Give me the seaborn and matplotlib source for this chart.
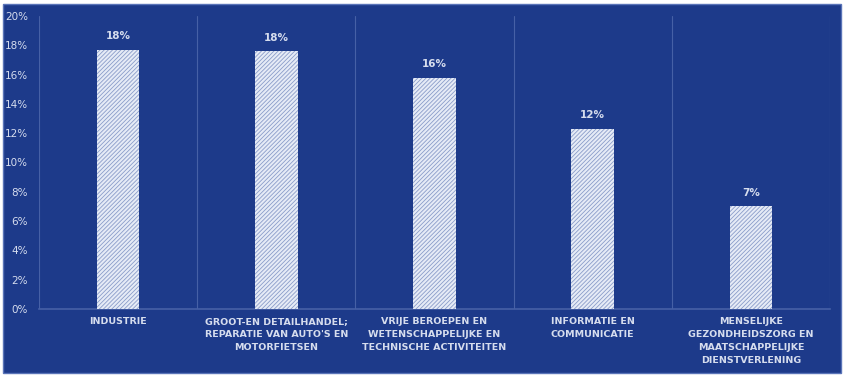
import matplotlib
matplotlib.use("Agg")
import matplotlib.pyplot as plt
import seaborn as sns
import pandas as pd
from matplotlib.patches import Rectangle
from matplotlib.ticker import PercentFormatter

categories = [
    "INDUSTRIE",
    "GROOT-EN DETAILHANDEL;\nREPARATIE VAN AUTO'S EN\nMOTORFIETSEN",
    "VRIJE BEROEPEN EN\nWETENSCHAPPELIJKE EN\nTECHNISCHE ACTIVITEITEN",
    "INFORMATIE EN\nCOMMUNICATIE",
    "MENSELIJKE\nGEZONDHEIDSZORG EN\nMAATSCHAPPELIJKE\nDIENSTVERLENING",
]
values = [0.177, 0.176, 0.158, 0.123, 0.070]
value_labels = ["18%", "18%", "16%", "12%", "7%"]
y_ticks = [0, 0.02, 0.04, 0.06, 0.08, 0.10, 0.12, 0.14, 0.16, 0.18, 0.20]

BG = "#1d3a8a"
TXT = "#d6ddee"
GRID = "#4660a6"

sns.set_style("white")
plt.rcParams["font.family"] = ["DejaVu Sans"]
plt.rcParams["hatch.linewidth"] = 0.6

df = pd.DataFrame({"cat": categories, "val": values})

fig = plt.figure(figsize=(8.45, 3.79), dpi=100)
fig.patch.set_facecolor("white")
bg = fig.add_axes([0, 0, 1, 1], zorder=-5)
bg.set_axis_off()
bg.add_patch(Rectangle((3 / 845, 6 / 379), 838 / 845, 369 / 379,
                       transform=bg.transAxes, facecolor=BG,
                       edgecolor="#5a74b8", linewidth=1))
ax = fig.add_axes([39 / 845, 1 - 309 / 379, (830 - 39) / 845, (309 - 16) / 379])
ax.set_facecolor("none")

sns.barplot(data=df, x="cat", y="val", ax=ax, color="#e6ebf6", width=0.27,
            saturation=1, edgecolor="#8a9cc9", linewidth=0)
for p in ax.patches:
    p.set_hatch("////////")
    p.set_zorder(3)

for i, (v, lab) in enumerate(zip(values, value_labels)):
    ax.annotate(lab, (i, v), xytext=(0, 6), textcoords="offset points",
                ha="center", va="bottom", fontsize=7.5, fontweight="bold",
                color=TXT)

for b in range(len(categories) + 1):
    ax.axvline(b - 0.5, color=GRID, lw=0.8, zorder=1)

ax.set_xlim(-0.5, len(categories) - 0.5)
ax.set_ylim(0, 0.20)
ax.set_yticks(y_ticks)
ax.yaxis.set_major_formatter(PercentFormatter(1.0, decimals=0))
ax.tick_params(axis="y", colors=TXT, labelsize=7.5, length=0, pad=8)
ax.tick_params(axis="x", colors=TXT, labelsize=6.8, length=0, pad=6)
for lab in ax.get_xticklabels():
    lab.set_linespacing(1.55)
    lab.set_fontweight("bold")
ax.set_xlabel("")
ax.set_ylabel("")
for s in ["top", "left", "right"]:
    ax.spines[s].set_visible(False)
ax.spines["bottom"].set_color(GRID)
ax.spines["bottom"].set_linewidth(1.2)

fig.savefig("out.png", dpi=100, facecolor=fig.get_facecolor())
